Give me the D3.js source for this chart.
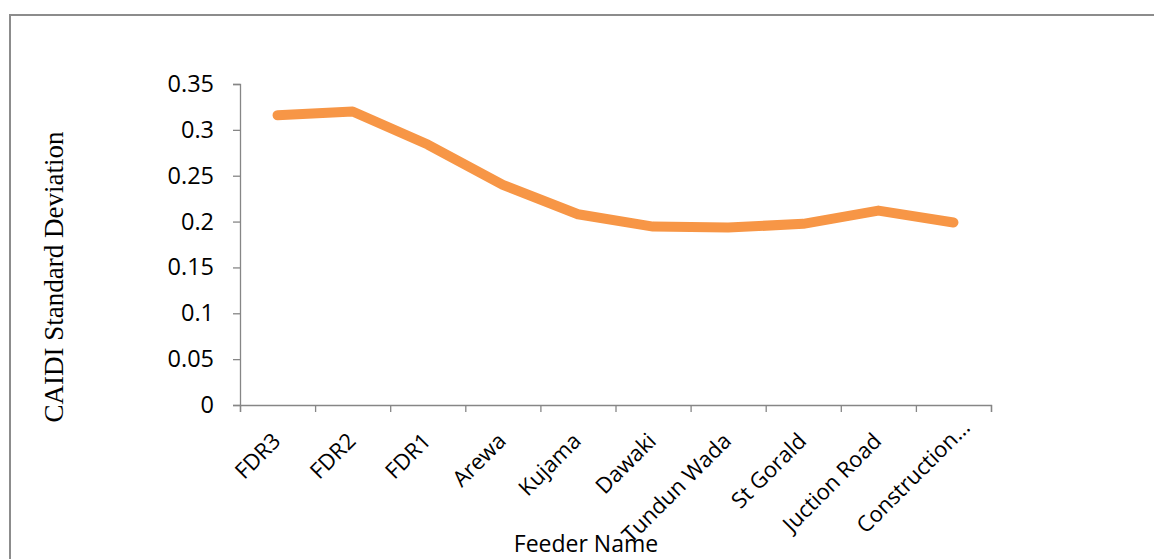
<!DOCTYPE html>
<html>
<head>
<meta charset="utf-8">
<script src="https://cdn.jsdelivr.net/npm/d3@7"></script>
<style>
  html, body { margin: 0; padding: 0; background: #fff; }
  svg { display: block; }
</style>
</head>
<body>
<svg id="chart" width="1154" height="559"></svg>
<script>
// Feeder names along the x axis
const feeders = ["FDR3", "FDR2", "FDR1", "Arewa", "Kujama", "Dawaki",
                 "Tundun Wada", "St Gorald", "Juction Road", "Construction…"];
// CAIDI standard deviation per feeder
const caidiStd = [0.316, 0.320, 0.284, 0.240, 0.208, 0.1945, 0.1935, 0.1975, 0.212, 0.199];
// Y axis tick values
const yTicks = [0, 0.05, 0.1, 0.15, 0.2, 0.25, 0.3, 0.35];

const svg = d3.select("#chart");
const W = 1154, H = 559;
const plot = { left: 240, right: 991, top: 84, bottom: 405 };
const axisColor = "#868686";
const font = "'Open Sans', 'Noto Sans', sans-serif";

// outer frame (only its top and left edges fall inside the view)
svg.append("rect")
  .attr("x", 10).attr("y", 15)
  .attr("width", W + 50).attr("height", H + 50)
  .attr("fill", "none").attr("stroke", "#8c8c8c").attr("stroke-width", 2);

const x = d3.scaleBand().domain(feeders).range([plot.left, plot.right]).paddingInner(0).paddingOuter(0);
const xEdges = d3.scaleLinear().domain([0, feeders.length]).range([plot.left, plot.right]);
const y = d3.scaleLinear().domain([0, 0.35]).range([plot.bottom, plot.top]);

// Y axis
const yAxis = svg.append("g")
  .attr("transform", `translate(${plot.left},0)`)
  .call(d3.axisLeft(y).tickValues(yTicks).tickSize(7).tickPadding(19)
        .tickFormat(d => String(+d.toFixed(2))));
yAxis.selectAll("path, line").attr("stroke", axisColor).attr("stroke-width", 1.3);
yAxis.selectAll("text").attr("font-family", font).attr("font-size", 23.5).attr("fill", "#000");

// X axis: tick marks at category boundaries
const xAxis = svg.append("g")
  .attr("transform", `translate(0,${plot.bottom})`)
  .call(d3.axisBottom(xEdges).tickValues(d3.range(feeders.length + 1)).tickSize(7).tickSizeOuter(7).tickFormat(""));
xAxis.selectAll("path, line").attr("stroke", axisColor).attr("stroke-width", 1.3);

// rotated category labels (a truncated label sits further along its direction)
svg.append("g").selectAll("text")
  .data(feeders)
  .join("text")
  .attr("transform", d => `translate(${x(d) + x.bandwidth() / 2 - 1},${plot.bottom + 32}) rotate(-45)`)
  .attr("text-anchor", "end")
  .attr("dx", d => d.endsWith("…") ? 19 : 0)
  .attr("dy", "0.35em")
  .attr("font-family", font).attr("font-size", 22).attr("fill", "#000")
  .text(d => d);

// series line
const line = d3.line()
  .x((d, i) => x(feeders[i]) + x.bandwidth() / 2)
  .y(d => y(d));
svg.append("path")
  .datum(caidiStd)
  .attr("d", line)
  .attr("fill", "none")
  .attr("stroke", "#F79646")
  .attr("stroke-width", 10)
  .attr("stroke-linecap", "round")
  .attr("stroke-linejoin", "round");

// axis titles
svg.append("text")
  .attr("x", 586).attr("y", 552)
  .attr("text-anchor", "middle")
  .attr("font-family", font).attr("font-size", 23).attr("fill", "#000")
  .text("Feeder Name");

svg.append("text")
  .attr("transform", "translate(63,277) rotate(-90)")
  .attr("text-anchor", "middle")
  .attr("font-family", "'Liberation Serif', 'Times New Roman', serif").attr("font-size", 27).attr("fill", "#000")
  .text("CAIDI Standard Deviation");
</script>
</body>
</html>
